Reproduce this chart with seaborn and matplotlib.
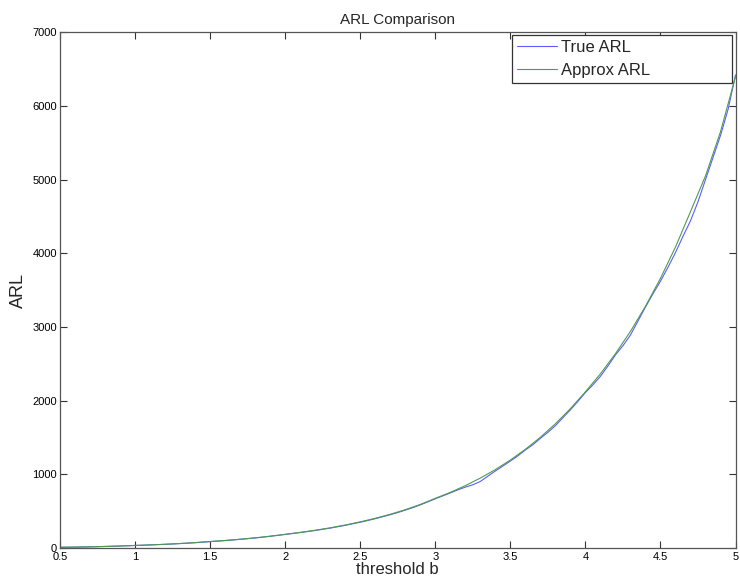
import numpy as np
import pandas as pd
import seaborn as sns
import matplotlib.pyplot as plt

# threshold values and ARL
b_approx = [0.5, 0.6, 0.7, 0.8, 0.9, 1.0, 1.1, 1.2, 1.3, 1.4, 1.5, 1.6, 1.7, 1.8, 1.9,
            2.0, 2.1, 2.2, 2.3, 2.4, 2.5, 2.6, 2.7, 2.8, 2.9, 3.0, 3.1, 3.2, 3.3, 3.4,
            3.5, 3.6, 3.7, 3.8, 3.9, 4.0, 4.1, 4.2, 4.3, 4.4, 4.5, 4.6, 4.7, 4.8, 4.9, 5.0]
arl_approx = [10, 12.8, 16.4, 21.3, 27.4, 35, 42.3, 50.8, 61.1, 73.4, 88, 102.5, 119, 138, 161,
              186, 212, 241, 274, 312, 355, 403, 458, 520, 591, 674, 755, 846, 949, 1064,
              1194, 1339, 1503, 1686, 1891, 2120, 2364, 2637, 2940, 3280, 3660, 4085, 4565, 5050, 5650, 6400]

b_true = [0.5, 0.55, 0.6, 0.65, 0.7, 0.75, 0.8, 0.85, 0.9, 0.95,
          1.0, 1.05, 1.1, 1.15, 1.2, 1.25, 1.3, 1.35, 1.4, 1.45,
          1.5, 1.55, 1.6, 1.65, 1.7, 1.75, 1.8, 1.85, 1.9, 1.95,
          2.0, 2.05, 2.1, 2.15, 2.2, 2.25, 2.3, 2.35, 2.4, 2.45,
          2.5, 2.55, 2.6, 2.65, 2.7, 2.75, 2.8, 2.85, 2.9, 2.95,
          3.0, 3.05, 3.1, 3.15, 3.2, 3.25, 3.3, 3.35, 3.4, 3.45,
          3.5, 3.55, 3.6, 3.65, 3.7, 3.75, 3.8, 3.85, 3.9, 3.95,
          4.0, 4.05, 4.1, 4.15, 4.2, 4.25, 4.3, 4.35, 4.4, 4.45,
          4.5, 4.55, 4.6, 4.65, 4.7, 4.75, 4.8, 4.85, 4.9, 4.95, 5.0]
arl_true = [10, 11, 12.5, 14.3, 16.2, 18.5, 21, 24, 27, 30.5,
            34.5, 38, 42, 46, 50, 55, 60.5, 66, 72.5, 79.5,
            87, 94, 101, 109, 118, 127, 137, 147, 159, 171,
            184, 197, 210, 224, 238, 254, 270, 289, 308, 329,
            350, 373, 398, 425, 452, 481, 514, 548, 585, 626,
            668, 708, 747, 789, 826, 858, 903, 975, 1045, 1112,
            1180, 1251, 1330, 1402, 1488, 1570, 1660, 1768, 1875, 1990,
            2110, 2215, 2330, 2470, 2620, 2745, 2890, 3080, 3270, 3450,
            3620, 3810, 4010, 4230, 4440, 4700, 5000, 5300, 5600, 5950, 6420]

sns.set_style("ticks", {"xtick.direction": "in", "ytick.direction": "in"})
plt.rcParams['font.family'] = ['Liberation Sans', 'DejaVu Sans']

fig = plt.figure(figsize=(7.4, 5.79), dpi=100)
ax = fig.add_axes([0.081, 0.0535, 0.913, 0.891])

df_true = pd.DataFrame({"b": b_true, "ARL": arl_true})
df_approx = pd.DataFrame({"b": b_approx, "ARL": arl_approx})
sns.lineplot(data=df_true, x="b", y="ARL", ax=ax, color="#5c5cff", lw=0.8, label="True ARL")
sns.lineplot(data=df_approx, x="b", y="ARL", ax=ax, color="#4f9a4f", lw=0.8, label="Approx ARL")

ax.set_xlim(0.5, 5)
ax.set_ylim(0, 7000)
ax.set_xticks([0.5, 1, 1.5, 2, 2.5, 3, 3.5, 4, 4.5, 5])
ax.set_xticklabels(["0.5", "1", "1.5", "2", "2.5", "3", "3.5", "4", "4.5", "5"])
ax.set_yticks(range(0, 7001, 1000))
ax.tick_params(axis="both", labelsize=8, length=5, width=0.8, top=True, right=True,
               colors="#333333", labelcolor="black")
ax.tick_params(axis="x", pad=3)
ax.tick_params(axis="y", pad=2)
for s in ax.spines.values():
    s.set_color("#555555")
    s.set_linewidth(0.9)

ax.set_title("ARL Comparison", fontsize=11, pad=6)
ax.set_xlabel("threshold b", fontsize=12, labelpad=0)
ax.set_ylabel("ARL", fontsize=13, labelpad=4)

leg = ax.legend(loc="upper left", bbox_to_anchor=(0.669, 0.903, 0.325, 0.091), mode="expand",
                fontsize=12, frameon=True, fancybox=False, borderpad=0.3,
                handlelength=2.4, handletextpad=0.25, labelspacing=0.45, borderaxespad=0)
leg.get_frame().set_edgecolor("#333333")
leg.get_frame().set_linewidth(0.9)
leg.get_frame().set_alpha(1)

fig.savefig("out.png", dpi=100)
